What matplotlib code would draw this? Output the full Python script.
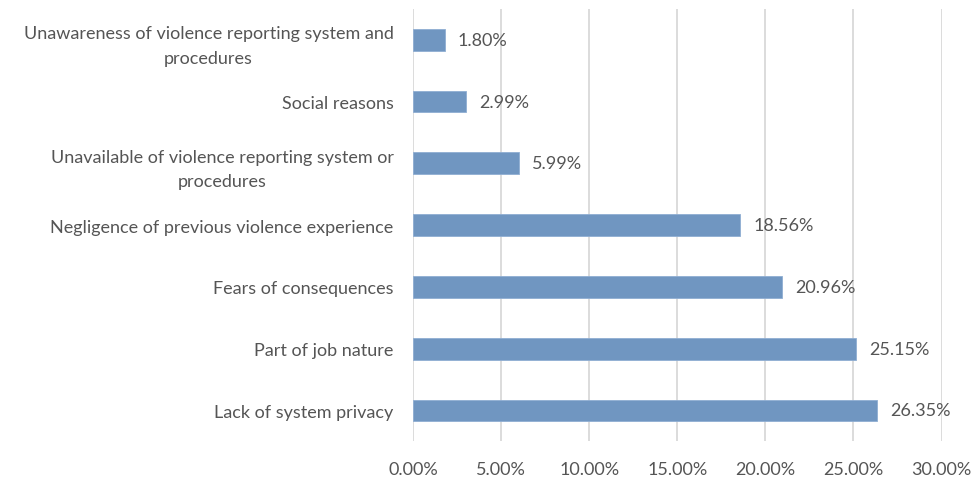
import matplotlib
matplotlib.use("Agg")
import matplotlib.pyplot as plt

categories = [
    "Lack of system privacy",
    "Part of job nature",
    "Fears of consequences",
    "Negligence of previous violence experience",
    "Unavailable of violence reporting system or\nprocedures",
    "Social reasons",
    "Unawareness of violence reporting system and\nprocedures",
]
values = [26.35, 25.15, 20.96, 18.56, 5.99, 2.99, 1.80]
xticks = [0, 5, 10, 15, 20, 25, 30]

plt.rcParams['font.family'] = ['Lato', 'DejaVu Sans']
text_color = '#555555'

fig = plt.figure(figsize=(9.72, 4.81), dpi=100)
ax = fig.add_axes([413/972, 1-442.4/481, (941.5-413)/972, (442.4-9.8)/481])

y = list(range(len(categories)))
ax.barh(y, values, height=0.35, color='#7096C1', edgecolor='#8FAED3', linewidth=0.6, zorder=3)
for yi, v in zip(y, values):
    ax.text(v + 0.75, yi, f"{v:.2f}%", va='center', ha='left', fontsize=13, color=text_color)

ax.set_xlim(0, 30)
ax.set_ylim(-0.5, len(categories) - 0.5)
ax.set_xticks(xticks)
ax.set_xticklabels([f"{t:.2f}%" for t in xticks], fontsize=13, color=text_color)
ax.set_yticks(y)
ax.set_yticklabels(categories, fontsize=13, color=text_color, multialignment='center',
                   linespacing=1.65)
ax.tick_params(axis='both', length=0)
ax.tick_params(axis='x', pad=14)
ax.tick_params(axis='y', pad=14)
ax.grid(axis='x', color='#D9D9D9', linewidth=1.3, zorder=0)
for s in ax.spines.values():
    s.set_visible(False)

fig.savefig('out.png', dpi=100)
